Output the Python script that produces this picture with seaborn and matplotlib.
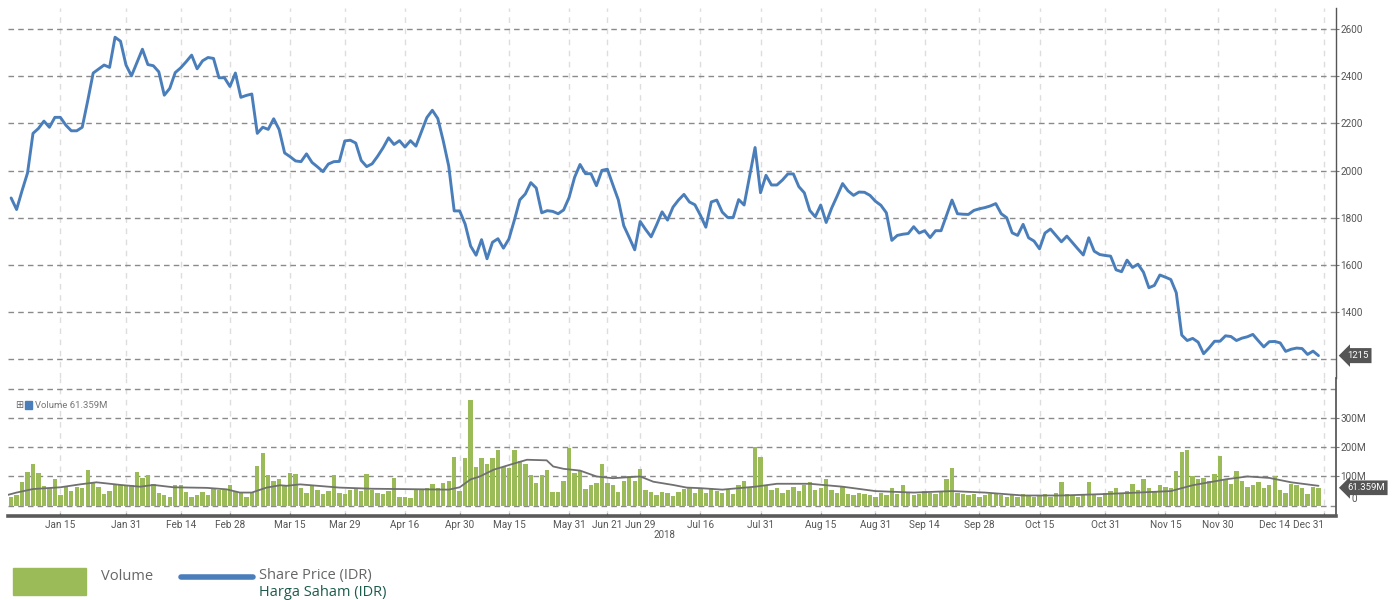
import numpy as np
import pandas as pd
import matplotlib
matplotlib.use("Agg")
import matplotlib.pyplot as plt
import seaborn as sns

# ---------------- data ----------------
price = [1884, 1835, 1915, 1990, 2158, 2179, 2210, 2184, 2226, 2226,
         2193, 2169, 2169, 2184, 2296, 2414, 2431, 2448, 2438, 2566,
         2549, 2448, 2402, 2459, 2515, 2450, 2445, 2419, 2320, 2349,
         2416, 2436, 2462, 2490, 2432, 2466, 2480, 2476, 2394, 2394,
         2357, 2414, 2311, 2319, 2325, 2158, 2184, 2175, 2220, 2174,
         2075, 2059, 2041, 2038, 2071, 2035, 2016, 1996, 2028, 2038,
         2039, 2126, 2129, 2117, 2043, 2017, 2029, 2061, 2097, 2139,
         2111, 2127, 2100, 2127, 2104, 2165, 2225, 2256, 2221, 2126,
         2019, 1829, 1829, 1773, 1680, 1641, 1707, 1626, 1696, 1711,
         1671, 1710, 1790, 1876, 1901, 1949, 1926, 1821, 1830, 1827,
         1817, 1833, 1886, 1971, 2026, 1987, 1987, 1936, 2001, 2006,
         1940, 1876, 1766, 1716, 1664, 1784, 1750, 1719, 1770, 1825,
         1790, 1845, 1875, 1899, 1867, 1855, 1811, 1760, 1867, 1875,
         1824, 1801, 1801, 1877, 1854, 1975, 2098, 1906, 1980, 1939,
         1939, 1960, 1986, 1986, 1932, 1906, 1831, 1804, 1854, 1780,
         1841, 1892, 1945, 1914, 1895, 1909, 1908, 1895, 1870, 1853,
         1821, 1704, 1725, 1730, 1733, 1762, 1735, 1745, 1716, 1745,
         1745, 1810, 1875, 1817, 1815, 1814, 1831, 1838, 1843, 1850,
         1860, 1817, 1800, 1736, 1725, 1772, 1715, 1701, 1668, 1735,
         1752, 1725, 1698, 1722, 1695, 1668, 1642, 1715, 1658, 1644,
         1640, 1637, 1579, 1571, 1620, 1589, 1603, 1569, 1503, 1513,
         1557, 1548, 1538, 1482, 1302, 1279, 1288, 1272, 1223, 1248,
         1276, 1276, 1299, 1296, 1279, 1289, 1295, 1305, 1278, 1252,
         1274, 1275, 1269, 1233, 1242, 1247, 1245, 1220, 1234, 1215]

volume_m = [30, 36, 81, 116, 143, 111, 68, 60, 92, 37,
            68, 50, 65, 61, 123, 79, 64, 40, 50, 70,
            70, 70, 70, 116, 95, 105, 73, 43, 37, 30,
            70, 70, 47, 30, 37, 47, 37, 57, 53, 53,
            70, 46, 42, 30, 46, 136, 181, 105, 85, 92,
            68, 112, 110, 60, 45, 70, 55, 40, 50, 105,
            45, 40, 55, 60, 50, 110, 55, 45, 40, 50,
            95, 30, 30, 26, 54, 54, 60, 73, 60, 77,
            85, 167, 49, 164, 360, 133, 164, 143, 164, 190,
            133, 129, 190, 153, 143, 105, 78, 105, 123, 47,
            47, 85, 198, 111, 119, 57, 70, 78, 143, 78,
            70, 47, 85, 102, 85, 126, 54, 47, 37, 46,
            44, 33, 46, 57, 60, 44, 57, 45, 60, 50,
            45, 55, 40, 70, 85, 60, 200, 165, 70, 55,
            60, 45, 55, 65, 50, 70, 80, 55, 60, 90,
            55, 45, 65, 40, 35, 45, 40, 35, 30, 45,
            35, 60, 40, 70, 45, 35, 40, 50, 45, 40,
            50, 90, 130, 45, 40, 35, 40, 30, 35, 40,
            45, 35, 30, 35, 30, 40, 35, 30, 35, 40,
            30, 45, 80, 40, 35, 30, 40, 80, 35, 30,
            45, 50, 60, 40, 50, 75, 55, 90, 60, 50,
            70, 65, 60, 120, 185, 190, 100, 90, 95, 85,
            110, 170, 90, 75, 120, 85, 65, 70, 80, 60,
            70, 100, 55, 45, 75, 70, 60, 40, 65, 61.359]

ma_day = [-0.6, 1, 4, 9, 12.6, 15.6, 20, 23.6, 26, 29.7, 35.8, 39.4, 41.8, 44,
          46.7, 49.2, 50.4, 52.8, 60, 66, 71.1, 80, 82, 84, 85.7, 88.2, 91.2,
          94.3, 97.9, 99.1, 101, 104, 107, 110, 115, 117.4, 121, 123.5, 126,
          130, 136, 140, 146, 152, 158, 165, 172, 178, 185, 192, 200, 206,
          212, 216, 222, 226, 230, 234, 239]
ma_m = [37, 45, 57, 63, 73, 80, 71, 65, 71, 63, 61, 56, 45, 45,
        62, 70, 68, 73, 62, 58, 57, 55, 63, 90, 100, 123, 140,
        157, 155, 134, 126, 120, 100, 94, 100, 82, 71, 62, 60,
        55, 65, 75, 75, 65, 50, 45, 50, 45, 35, 35, 40, 45,
        50, 70, 90, 100, 95, 80, 68]

tick_day = [9, 21, 31, 40, 51, 61, 72, 82, 91, 102, 109, 115, 126, 137,
            148, 158, 167, 177, 188, 200, 211, 220.6, 231, 240]
tick_label = ["Jan 15", "Jan 31", "Feb 14", "Feb 28", "Mar 15", "Mar 29",
              "Apr 16", "Apr 30", "May 15", "May 31", "Jun 21", "Jun 29",
              "Jul 16", "Jul 31", "Aug 15", "Aug 31", "Sep 14", "Sep 28",
              "Oct 15", "Oct 31", "Nov 15", "Nov 30", "Dec 14", "Dec 31"]
price_ticks = [1400, 1600, 1800, 2000, 2200, 2400, 2600]
vol_ticks = [100, 200, 300]

day = list(range(len(price)))
df = pd.DataFrame({"day": day, "price": price, "vol": volume_m})
ma_df = pd.DataFrame({"day": ma_day, "ma": ma_m})

# ---------------- style ----------------
sns.set_theme(style="white")
plt.rcParams["font.family"] = ["Roboto", "DejaVu Sans"]

W, H = 1395, 600
fig = plt.figure(figsize=(W / 100, H / 100), dpi=100)

def fx(px):
    return px / W

def fy(py):
    return 1 - py / H

L, R = 8, 1336
ax_p = fig.add_axes([fx(L), fy(378), fx(R - L), fy(8) - fy(378)])
ax_v = fig.add_axes([fx(L), fy(516), fx(R - L), fy(378) - fy(516)], sharex=ax_p)

BLUE = "#4a7ebb"
GREEN = "#9bbb59"
TXT = "#555555"
HGRID = "#8a8a8a"
VGRID = "#dddddd"

xlim = (-0.57, 242.2)

for ax in (ax_p, ax_v):
    ax.set_facecolor("white")
    for s in ax.spines.values():
        s.set_visible(False)
    for t in tick_day:
        ax.axvline(t, color=VGRID, lw=1, ls=(0, (4, 4)), zorder=0)

# price panel
ax_p.set_ylim(1120, 2690)
for v in [1200] + price_ticks:
    ax_p.axhline(v, color=HGRID, lw=1, ls=(0, (4, 3)), zorder=1)
sns.lineplot(data=df, x="day", y="price", ax=ax_p, color=BLUE, lw=2.1, zorder=3)
ax_p.set_xlim(*xlim)
ax_p.yaxis.tick_right()
ax_p.set_yticks(price_ticks)
ax_p.set_yticklabels([str(v) for v in price_ticks])
ax_p.tick_params(axis="y", which="both", length=2, width=0.8, color="#777777",
                 labelsize=7.2, labelcolor=TXT, pad=1, right=True, left=False)
ax_p.tick_params(axis="x", bottom=False, labelbottom=False)
ax_p.set_xlabel("")
ax_p.set_ylabel("")
ax_p.spines["right"].set_visible(True)
ax_p.spines["right"].set_color("#555555")
ax_p.spines["right"].set_linewidth(1)

# last price flag
ax_p.annotate(str(price[-1]), xy=(1.0, price[-1]), xycoords=("axes fraction", "data"),
              xytext=(8, 0), textcoords="offset points", ha="left", va="center",
              fontsize=6.8, color="white",
              bbox=dict(boxstyle="larrow,pad=0.32", fc="#555555", ec="none"))

# volume panel
ax_v.set_ylim(-35, 436)
for v in [0, 100, 200, 300, 400]:
    ax_v.axhline(v, color=HGRID, lw=1, ls=(0, (4, 3)), zorder=1)
sns.barplot(data=df, x="day", y="vol", ax=ax_v, color=GREEN, native_scale=True,
            width=0.8, saturation=1, linewidth=0, zorder=2)
sns.lineplot(data=ma_df, x="day", y="ma", ax=ax_v, color="#707070", lw=1.3, zorder=3)
ax_v.set_xlim(*xlim)
ax_v.yaxis.tick_right()
ax_v.set_yticks(vol_ticks)
ax_v.set_yticklabels([f"{v}M" for v in vol_ticks])
ax_v.tick_params(axis="y", length=2, width=0.8, color="#777777", labelsize=7.2,
                 labelcolor=TXT, pad=1, right=True, left=False)
ax_v.set_xticks(tick_day)
ax_v.set_xticklabels(tick_label)
ax_v.tick_params(axis="x", length=2, width=0.8, color="#777777", labelsize=7.2,
                 labelcolor=TXT, pad=3, bottom=True, direction="in")
ax_v.set_xlabel("")
ax_v.set_ylabel("")
ax_v.spines["right"].set_visible(True)
ax_v.spines["right"].set_color("#555555")
ax_v.spines["bottom"].set_visible(True)
ax_v.spines["bottom"].set_color("#5a5a5a")
ax_v.spines["bottom"].set_linewidth(2.6)
lbls = ax_v.get_xticklabels()
lbls[-1].set_ha("right")
ax_v.text(1.012, 22, "0", transform=ax_v.get_yaxis_transform(), ha="left",
          va="center", fontsize=7.2, color=TXT)
ax_v.annotate(f"{volume_m[-1]:.3f}M", xy=(1.0, volume_m[-1]),
              xycoords=("axes fraction", "data"), xytext=(8, 0),
              textcoords="offset points", ha="left", va="center", fontsize=6.8,
              color="white",
              bbox=dict(boxstyle="larrow,pad=0.3", fc="#555555", ec="none"))

# volume panel mini-legend
fig.text(fx(15), fy(405), "\u229e", fontsize=7, color="#666666", va="center",
         family=["DejaVu Sans"])
fig.patches.append(plt.Rectangle((fx(25), fy(409)), fx(7), fy(401) - fy(409),
                                 transform=fig.transFigure, color=BLUE))
fig.text(fx(35), fy(405), f"Volume {volume_m[-1]:.3f}M", fontsize=6.8,
         color="#777777", va="center")

fig.text(fx(664), fy(535), "2018", fontsize=7, color=TXT, ha="center", va="center")

# bottom legend
fig.patches.append(plt.Rectangle((fx(13), fy(595)), fx(73), fy(568) - fy(595),
                                 transform=fig.transFigure, color=GREEN))
fig.text(fx(101), fy(576), "Volume", fontsize=10.5, color="#666666", va="center",
         family=["Open Sans", "DejaVu Sans"])
fig.lines.append(plt.Line2D([fx(181), fx(253)], [fy(577), fy(577)],
                            transform=fig.transFigure, color=BLUE, lw=4))
fig.text(fx(259), fy(576), "Share Price (IDR)", fontsize=10.5, color="#666666",
         va="center", family=["Open Sans", "DejaVu Sans"])
fig.text(fx(259), fy(593), "Harga Saham (IDR)", fontsize=10.5, color="#1d5c4d",
         va="center", family=["Open Sans", "DejaVu Sans"])

fig.savefig("out.png", dpi=100)
